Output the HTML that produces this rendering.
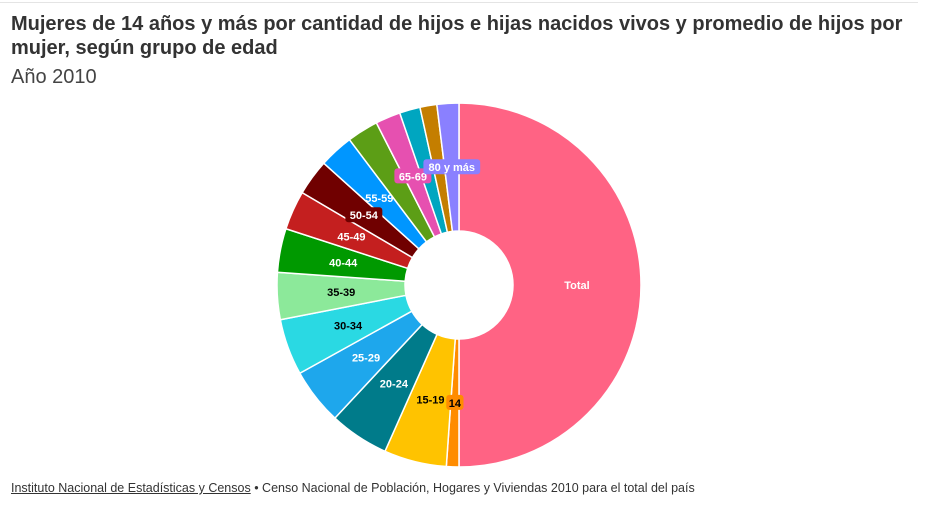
<!DOCTYPE html>
<html><head><meta charset="utf-8"><style>
body{margin:0;width:928px;height:520px;background:#fff;font-family:"Liberation Sans",sans-serif;overflow:hidden;position:relative}
.t{position:absolute;left:11px;top:12px;font-size:20px;font-weight:bold;color:#333;line-height:24px;width:900px}
.s{position:absolute;left:11px;top:66px;font-size:20px;color:#444}
.f{position:absolute;left:11px;top:481px;font-size:12.5px;color:#333}
.f u{text-decoration:underline}
.line{position:absolute;left:0;top:2px;width:918px;height:1px;background:#e4e4e4}
</style></head><body>
<div class="line"></div>
<div class="t">Mujeres de 14 años y más por cantidad de hijos e hijas nacidos vivos y promedio de hijos por mujer, según grupo de edad</div>
<div class="s">Año 2010</div>
<svg id="c" width="928" height="520" style="position:absolute;left:0;top:0"></svg>
<div class="f"><u>Instituto Nacional de Estadísticas y Censos</u> • Censo Nacional de Población, Hogares y Viviendas 2010 para el total del país</div>
<script>
const categories=["14","15-19","20-24","25-29","30-34","35-39","40-44","45-49","50-54","55-59","60-64","65-69","70-74","75-79","80 y más"];
const values=[4,20,19,18,18,15,14,12.5,11.5,11,10,8,6.6,5.4,7];
const colors=["#ff8c00","#ffc300","#007b8a","#1ea7ec","#2ad9e3","#8ce99a","#009900","#c41f1f","#700000","#0096ff","#5c9e16","#e650b0","#00a6c0","#c47e00","#8a80ff"];
const textCol=["#000","#000","#fff","#fff","#000","#000","#fff","#fff","#fff","#fff",null,"#fff",null,null,"#fff"];
const boxed=[true,false,false,false,false,false,false,false,true,false,false,true,false,false,true];
const total=values.reduce((a,b)=>a+b,0);
const svg=document.getElementById('c');const NS="http://www.w3.org/2000/svg";
const cx=459,cy=285,R=182,r=54;
function pt(a,rad){return [cx+rad*Math.sin(a),cy-rad*Math.cos(a)];}
function arc(a0,a1,col,name){const p=document.createElementNS(NS,'path');
const [x0,y0]=pt(a0,R),[x1,y1]=pt(a1,R),[x2,y2]=pt(a1,r),[x3,y3]=pt(a0,r);const lg=(a1-a0)>Math.PI?1:0;
p.setAttribute('d',`M${x0},${y0}A${R},${R} 0 ${lg} 1 ${x1},${y1}L${x2},${y2}A${r},${r} 0 ${lg} 0 ${x3},${y3}Z`);
p.setAttribute('fill',col);p.setAttribute('stroke','#fff');p.setAttribute('stroke-width','1.5');


svg.appendChild(p);}
function label(a,txt,col,box,bg,name){const [x,y]=pt(a,118);
if(box){const rc=document.createElementNS(NS,'rect');const w=txt.length*6.6+4;
rc.setAttribute('x',x-w/2);rc.setAttribute('y',y-8);rc.setAttribute('width',w);rc.setAttribute('height',15);rc.setAttribute('rx',3);rc.setAttribute('fill',bg);


svg.appendChild(rc);}
const t=document.createElementNS(NS,'text');t.setAttribute('x',x);t.setAttribute('y',y+4);t.setAttribute('text-anchor','middle');
t.setAttribute('font-size','11');t.setAttribute('font-weight','bold');t.setAttribute('fill',col);t.setAttribute('font-family','Liberation Sans, sans-serif');t.textContent=txt;


svg.appendChild(t);}
const all=total*2;let a=0;
arc(0,Math.PI,"#ff6384","slice-total");
a=Math.PI;
const labs=[];
values.forEach((v,i)=>{const da=v/all*2*Math.PI;arc(a,a+da,colors[i],'slice-'+categories[i].replace(/ /g,'-'));labs.push([a+da/2,i]);a+=da;});
label(Math.PI/2,"Total","#fff",false,null,"label-total");
labs.forEach(([m,i])=>{if(textCol[i])label(m,categories[i],textCol[i],boxed[i],colors[i],'label-'+categories[i].replace(/ /g,'-'));});
</script>
</body></html>
